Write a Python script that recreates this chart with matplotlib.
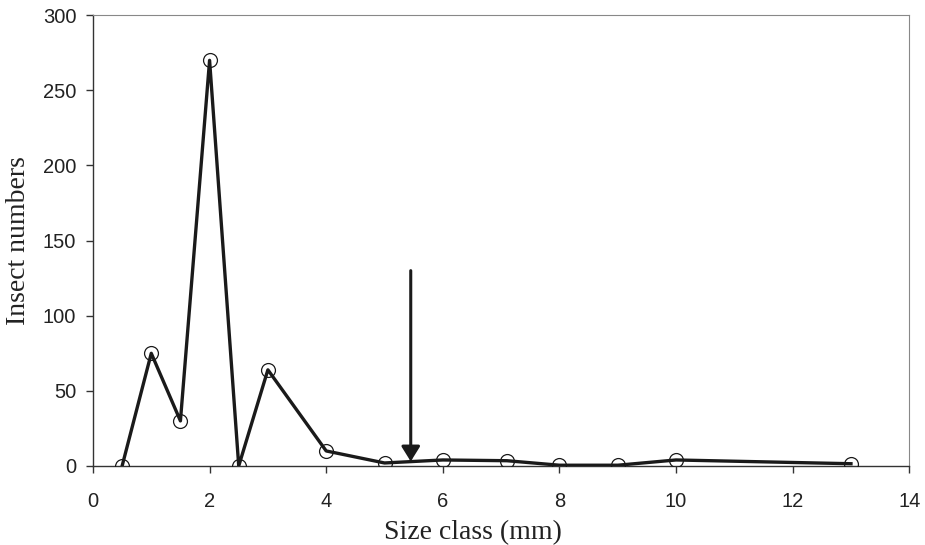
import matplotlib
matplotlib.use('Agg')
import matplotlib.pyplot as plt

# size classes (mm) and insect counts
size_class = [0.5, 1, 1.5, 2, 2.5, 3, 4, 5, 6, 7.1, 8, 9, 10, 13]
insect_numbers = [0, 75, 30, 270, 0, 64, 10, 2, 4, 3.5, 0.5, 0.5, 4, 1.5]

arrow_x = 5.45
arrow_top = 130
arrow_tip = 3

fig = plt.figure(figsize=(9.25, 5.45), dpi=100)
ax = fig.add_axes([0.1005, 0.145, 0.8825, 0.827])

ax.plot(size_class, insect_numbers, color='#1a1a1a', linewidth=2.4,
        marker='o', markersize=10, markerfacecolor='none',
        markeredgecolor='#1a1a1a', markeredgewidth=0.9, zorder=3)

ax.annotate('', xy=(arrow_x, arrow_tip), xytext=(arrow_x, arrow_top),
            arrowprops=dict(arrowstyle='-|>,head_length=0.45,head_width=0.28',
                            mutation_scale=20, color='#1a1a1a', lw=2.2,
                            shrinkA=0, shrinkB=0))

ax.set_xlim(0, 14)
ax.set_ylim(0, 300)
ax.set_xticks(range(0, 15, 2))
ax.set_yticks(range(0, 301, 50))

for side in ['left', 'bottom']:
    ax.spines[side].set_color('#333333')
    ax.spines[side].set_linewidth(1.0)
for side in ['top', 'right']:
    ax.spines[side].set_color('#888888')
    ax.spines[side].set_linewidth(0.8)

ax.tick_params(direction='out', length=5, width=1.0, color='#333333',
               labelsize=14.5)
ax.tick_params(axis='x', pad=14)
ax.tick_params(axis='y', pad=7)
for lab in ax.get_xticklabels() + ax.get_yticklabels():
    lab.set_family('Liberation Sans')
    lab.set_color('#222222')

ax.set_xlabel('Size class (mm)', family='Liberation Serif', fontsize=20,
              color='#222222')
ax.set_ylabel('Insect numbers', family='Liberation Serif', fontsize=20,
              color='#222222')
ax.xaxis.set_label_coords(0.466, -0.12)
ax.yaxis.set_label_coords(-0.076, 0.5)

fig.savefig('out.png', dpi=100)
